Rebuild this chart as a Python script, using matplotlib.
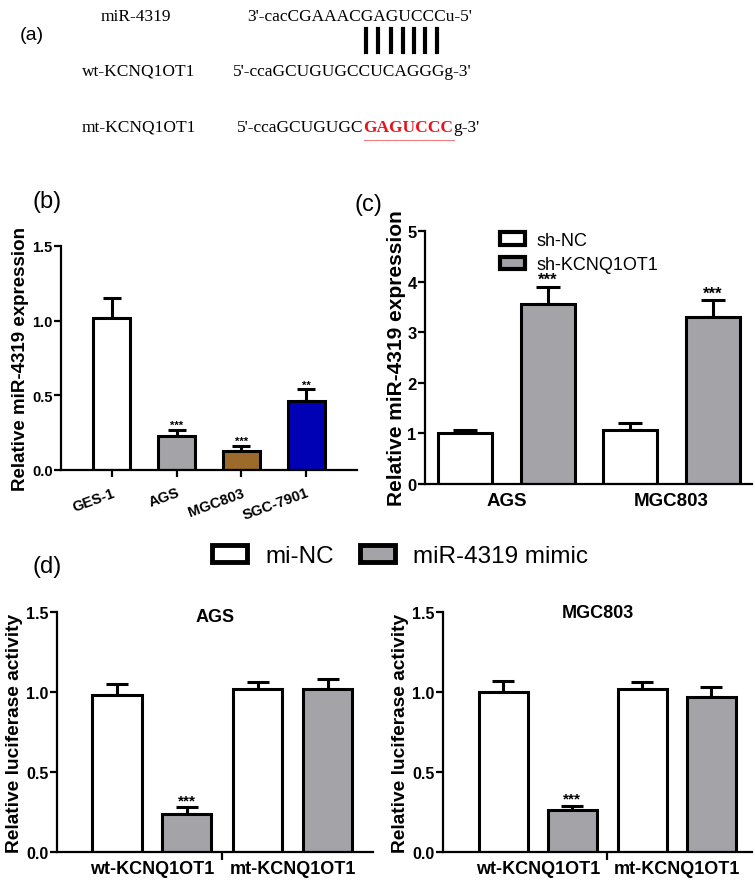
import numpy as np
import matplotlib
matplotlib.use("Agg")
import matplotlib.pyplot as plt

W, H = 755, 887
SANS = "Liberation Sans"
SERIF = "Liberation Serif"

# ---- data ----
b_labels = ["GES-1", "AGS", "MGC803", "SGC-7901"]
b_vals = [1.02, 0.23, 0.13, 0.46]
b_err = [0.13, 0.04, 0.03, 0.08]
b_stars = ["", "***", "***", "**"]
b_colors = ["white", "#a3a3a8", "#9c6b2c", "#0000b4"]

c_groups = ["AGS", "MGC803"]
c_nc = [1.0, 1.07]
c_nc_err = [0.07, 0.14]
c_sh = [3.55, 3.31]
c_sh_err = [0.35, 0.32]

d_groups = ["wt-KCNQ1OT1", "mt-KCNQ1OT1"]
d_ags_nc = [0.98, 1.02]
d_ags_nc_err = [0.07, 0.04]
d_ags_mim = [0.24, 1.02]
d_ags_mim_err = [0.04, 0.06]
d_mgc_nc = [1.0, 1.02]
d_mgc_nc_err = [0.07, 0.04]
d_mgc_mim = [0.26, 0.97]
d_mgc_mim_err = [0.03, 0.06]
d_stars = ["***", ""]

GRAY = "#a3a3a8"
LW = 2.2

fig = plt.figure(figsize=(W / 100, H / 100), dpi=100)


def px_axes(x0, y0, x1, y1):
    # pixel box (top-left origin) -> figure axes
    return fig.add_axes([x0 / W, 1 - y1 / H, (x1 - x0) / W, (y1 - y0) / H])


def style(ax, tsize):
    for s in ["top", "right"]:
        ax.spines[s].set_visible(False)
    for s in ["left", "bottom"]:
        ax.spines[s].set_linewidth(1.6)
    ax.tick_params(axis="y", width=1.6, length=5, labelsize=tsize, pad=1)
    for t in ax.get_yticklabels():
        t.set_fontfamily(SANS)
        t.set_fontweight("bold")


def bars(ax, x, vals, errs, width, color, cap, stars=None, star_size=9):
    ax.bar(x, vals, width, color=color, edgecolor="black", linewidth=LW, zorder=2)
    ax.errorbar(x, vals, yerr=[np.zeros(len(vals)), errs], fmt="none", ecolor="black",
                elinewidth=LW, capsize=cap, capthick=LW, zorder=1)
    if stars:
        for xi, v, e, s in zip(x, vals, errs, stars):
            if s:
                ax.text(xi, v + e, s, ha="center", va="bottom", fontsize=star_size,
                        family=SANS, fontweight="bold", linespacing=0.8)


# ---- panel (a) ----
SEQ = 12.5
fig.text(20 / W, 1 - 35 / H, "(a)", fontsize=14, family=SANS, va="center")
fig.text(136 / W, 1 - 17 / H, "miR-4319", fontsize=SEQ, family=SERIF, ha="center", va="center")
fig.text(139 / W, 1 - 72 / H, "wt-KCNQ1OT1", fontsize=SEQ, family=SERIF, ha="center", va="center")
fig.text(139 / W, 1 - 128 / H, "mt-KCNQ1OT1", fontsize=SEQ, family=SERIF, ha="center", va="center")
fig.text(247 / W, 1 - 17 / H, "3'-cacCGAAACGAGUCCCu-5'", fontsize=SEQ, family=SERIF, ha="left", va="center")
fig.text(233 / W, 1 - 72 / H, "5'-ccaGCUGUGCCUCAGGGg-3'", fontsize=SEQ, family=SERIF, ha="left", va="center")
r = fig.canvas.get_renderer()
t1 = fig.text(237 / W, 1 - 128 / H, "5'-ccaGCUGUGC", fontsize=SEQ, family=SERIF, ha="left", va="center")
x1 = t1.get_window_extent(r).x1
t2 = fig.text(x1 / W, 1 - 128 / H, "GAGUCCC", fontsize=SEQ, family=SERIF, ha="left", va="center",
              color="#e8141c", fontweight="bold")
bb2 = t2.get_window_extent(r)
fig.text(bb2.x1 / W, 1 - 128 / H, "g-3'", fontsize=SEQ, family=SERIF, ha="left", va="center")
fig.add_artist(plt.Line2D([bb2.x0 / W, bb2.x1 / W], [1 - 141 / H, 1 - 141 / H], color="#f08080", lw=0.8))
for xp in [366, 378, 391, 403, 414, 425, 437]:
    fig.add_artist(plt.Line2D([xp / W, xp / W], [1 - 30 / H, 1 - 53 / H], color="black", lw=3))

# ---- panel (b) ----
fig.text(32 / W, 1 - 202 / H, "(b)", fontsize=17, family=SANS, va="center")
axb = px_axes(61, 247, 357, 471)
xb = np.arange(len(b_labels))
for i in range(len(b_labels)):
    bars(axb, [xb[i]], [b_vals[i]], [b_err[i]], 0.57, b_colors[i], 6.5, [b_stars[i]], star_size=8)
axb.set_xlim(-0.78, 3.78)
axb.set_ylim(0, 1.5)
axb.set_yticks([0, 0.5, 1.0, 1.5])
axb.set_yticklabels(["0.0", "0.5", "1.0", "1.5"])
style(axb, 10.5)
axb.set_xticks(xb)
axb.set_xticklabels(b_labels, rotation=20, fontsize=10.5, family=SANS, fontweight="bold",
                    ha="right", rotation_mode="anchor")
axb.tick_params(axis="x", width=1.6, length=5, pad=6)
axb.set_ylabel("Relative miR-4319 expression", fontsize=13.5, family=SANS, fontweight="bold", labelpad=2)

# ---- panel (c) ----
fig.text(355 / W, 1 - 205 / H, "(c)", fontsize=17, family=SANS, va="center")
axc = px_axes(425, 232, 752, 485)
xc = np.arange(len(c_groups))
bars(axc, xc - 0.25, c_nc, c_nc_err, 0.33, "white", 8.5)
bars(axc, xc + 0.25, c_sh, c_sh_err, 0.33, GRAY, 8.5, ["***", "***"], star_size=12)
axc.set_xlim(-0.494, 1.488)
axc.set_ylim(0, 5)
axc.set_yticks(range(6))
style(axc, 12)
axc.set_xticks(xc)
axc.set_xticklabels(c_groups, fontsize=13.5, family=SANS, fontweight="bold")
axc.tick_params(axis="x", length=0, pad=6)
axc.set_ylabel("Relative miR-4319 expression", fontsize=15, family=SANS, fontweight="bold", labelpad=1)
axc.legend(handles=[plt.Rectangle((0, 0), 1, 1, fc="white", ec="black", lw=3),
                    plt.Rectangle((0, 0), 1, 1, fc=GRAY, ec="black", lw=3)],
           labels=["sh-NC", "sh-KCNQ1OT1"], loc="upper left", bbox_to_anchor=(0.18, 1.06),
           frameon=False, prop={"family": SANS, "size": 13}, handlelength=1.4,
           handleheight=0.7, handletextpad=0.6, labelspacing=0.4)

# ---- panel (d) ----
fig.text(32 / W, 1 - 567 / H, "(d)", fontsize=17, family=SANS, va="center")
fig.legend(handles=[plt.Rectangle((0, 0), 1, 1, fc="white", ec="black", lw=3.5),
                    plt.Rectangle((0, 0), 1, 1, fc=GRAY, ec="black", lw=3.5)],
           labels=["mi-NC", "miR-4319 mimic"], loc="center", ncol=2,
           bbox_to_anchor=(400 / W, 1 - 557 / H), frameon=False,
           prop={"family": SANS, "size": 17.5}, handlelength=1.45, handleheight=0.72,
           handletextpad=0.75, columnspacing=1.05)


def panel_d(box, xlim, nc, nc_err, mim, mim_err, title, ty):
    ax = px_axes(*box)
    xd = np.arange(len(d_groups))
    bars(ax, xd - 0.248, nc, nc_err, 0.35, "white", 7.8)
    bars(ax, xd + 0.248, mim, mim_err, 0.35, GRAY, 7.8, d_stars, star_size=11)
    ax.set_xlim(*xlim)
    ax.set_ylim(0, 1.5)
    ax.set_yticks([0, 0.5, 1.0, 1.5])
    ax.set_yticklabels(["0.0", "0.5", "1.0", "1.5"])
    style(ax, 11.5)
    ax.set_xticks(xd)
    ax.set_xticklabels(d_groups, fontsize=13, family=SANS, fontweight="bold")
    ax.set_xticks([0.5], minor=True)
    ax.tick_params(axis="x", which="major", length=0, pad=6)
    ax.tick_params(axis="x", which="minor", length=6, width=1.6, direction="out")
    ax.set_ylabel("Relative luciferase activity", fontsize=13.8, family=SANS, fontweight="bold", labelpad=2)
    ax.text(0.5, ty, title, transform=ax.transAxes, ha="center", va="center",
            fontsize=13, family=SANS, fontweight="bold")
    return ax


panel_d((57, 613, 373, 853), (-0.674, 1.57), d_ags_nc, d_ags_nc_err, d_ags_mim, d_ags_mim_err, "AGS", 0.98)
panel_d((443, 613, 752, 853), (-0.683, 1.54), d_mgc_nc, d_mgc_nc_err, d_mgc_mim, d_mgc_mim_err, "MGC803", 1.0)

fig.savefig("out.png", dpi=100)
